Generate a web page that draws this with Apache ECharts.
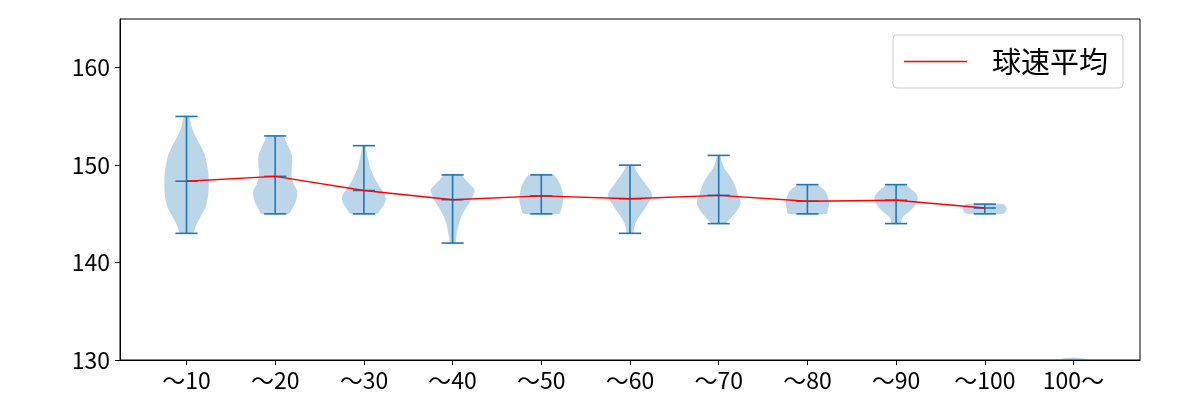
<!DOCTYPE html>
<html><head><meta charset="utf-8">
<script src="https://cdn.jsdelivr.net/npm/echarts@6/dist/echarts.min.js"></script>
<style>html,body{margin:0;padding:0;background:#fff}#c{width:1200px;height:400px}</style>
</head><body><div id="c"></div>
<script>
// ---- data ----
const categories = ['～10','～20','～30','～40','～50','～60','～70','～80','～90','～100','100～'];
const positions = [1,2,3,4,5,6,7,8,9,10,11];
const yTicks = [130,140,150,160];
const mins  = [143,145,145,142,145,143,144,145,144,145,null];
const maxs  = [155,153,152,149,149,150,151,148,148,146,null];
const means = [148.35,148.85,147.4,146.45,146.85,146.55,146.9,146.3,146.4,145.6,null];
// violin outlines: [speed, relative density]
const shape1 = [[143,0.28],[143.5,0.38],[144,0.47],[144.5,0.58],[145,0.7],[145.5,0.82],[146,0.9],[147,0.98],[148,1.0],[149,0.99],[150,0.93],[151,0.83],[152,0.64],[153,0.4],[154,0.22],[155,0.12]];
const shape2 = [[145,0.6],[145.5,0.76],[146,0.88],[146.5,0.96],[147,1.0],[147.5,0.98],[148,0.85],[148.5,0.77],[149,0.73],[149.5,0.74],[150,0.76],[150.5,0.77],[151,0.75],[151.5,0.68],[152,0.58],[152.5,0.47],[153,0.36]];
const shape3 = [[145,0.58],[145.5,0.78],[146,0.92],[146.5,0.99],[147,0.94],[147.5,0.8],[148,0.65],[148.5,0.52],[149,0.42],[149.5,0.32],[150,0.25],[150.5,0.2],[151,0.15],[151.5,0.11],[152,0.07]];
const shape4 = [[142,0.12],[142.5,0.16],[143,0.19],[143.5,0.23],[144,0.28],[144.5,0.36],[145,0.46],[145.5,0.58],[146,0.72],[146.5,0.85],[147,0.94],[147.5,0.99],[148,0.8],[148.5,0.58],[149,0.38]];
const shape5 = [[145,0.8],[145.5,0.9],[146,0.96],[146.5,0.99],[147,0.97],[147.5,0.93],[148,0.86],[148.5,0.74],[149,0.56]];
const shape6 = [[143,0.13],[143.5,0.18],[144,0.25],[144.5,0.35],[145,0.5],[145.5,0.66],[146,0.8],[146.5,0.93],[147,0.99],[147.5,0.89],[148,0.72],[148.5,0.56],[149,0.4],[149.5,0.26],[150,0.17]];
const shape7 = [[144,0.28],[144.5,0.52],[145,0.72],[145.5,0.88],[146,0.98],[146.5,0.96],[147,0.86],[147.5,0.8],[148,0.72],[148.5,0.62],[149,0.48],[149.5,0.3],[150,0.2],[150.5,0.12],[151,0.07]];
const shape8 = [[145,0.85],[145.5,0.93],[146,0.98],[146.5,0.95],[147,0.88],[147.5,0.74],[148,0.4]];
const shape9 = [[144,0.22],[144.5,0.25],[145,0.48],[145.5,0.72],[146,0.9],[146.5,0.98],[147,0.92],[147.5,0.7],[148,0.36]];
const shape10 = [[145,0.82],[145.25,0.95],[145.5,0.99],[145.75,0.95],[146,0.82]];
const shape11 = [[128.6,0.3],[129.2,0.8],[129.7,0.7],[130.15,0.5]];
const shapes = [shape1,shape2,shape3,shape4,shape5,shape6,shape7,shape8,shape9,shape10,shape11];

// ---- chart ----
const FONT = '"Noto Sans CJK JP", "Noto Sans", sans-serif';
const BLUE = '#1f77b4';
const HALF = 0.25;   // max half-width of a violin in x units
const CAP = 0.125;   // half-width of extrema / mean bars

const chart = echarts.init(document.getElementById('c'), null, {renderer:'canvas'});

function violinItem(params, api) {
  const i = params.dataIndex;
  const x = api.value(0);
  const s = shapes[i];
  const right = s.map(p => api.coord([x + p[1]*HALF, p[0]]));
  const left = s.slice().reverse().map(p => api.coord([x - p[1]*HALF, p[0]]));
  return {
    type: 'polygon',
    shape: { points: right.concat(left), smooth: 0.3 },
    style: { fill: 'rgba(31,119,180,0.3)', stroke: null }
  };
}

function barsItem(params, api) {
  const i = params.dataIndex;
  if (mins[i] == null) return null;
  const x = api.value(0);
  const st = { stroke: BLUE, lineWidth: 1.6, fill: null };
  const seg = (a, b) => {
    const p1 = api.coord(a), p2 = api.coord(b);
    return { type: 'line', shape: { x1: p1[0], y1: p1[1], x2: p2[0], y2: p2[1] }, style: st };
  };
  return {
    type: 'group',
    children: [
      seg([x, mins[i]], [x, maxs[i]]),
      seg([x - CAP, mins[i]], [x + CAP, mins[i]]),
      seg([x - CAP, maxs[i]], [x + CAP, maxs[i]]),
      seg([x - CAP, means[i]], [x + CAP, means[i]])
    ]
  };
}

const meanData = [];
means.forEach((m, i) => { if (m != null) meanData.push([positions[i], m]); });

chart.setOption({
  animation: false,
  backgroundColor: '#fff',
  grid: { left: 120, right: 60, top: 19, bottom: 40, show: true, borderColor: '#000', borderWidth: 1, backgroundColor: 'transparent' },
  legend: {
    data: [{ name: '球速平均', icon: 'rect' }],
    left: 893, top: 35,
    padding: [10, 15, 10, 11],
    itemWidth: 63, itemHeight: 1.6,
    itemStyle: { color: '#ff0000' },
    borderColor: '#cccccc', borderWidth: 1, borderRadius: 4,
    backgroundColor: 'rgba(255,255,255,0.8)',
    textStyle: { fontSize: 29, fontFamily: FONT, color: '#000', lineHeight: 33, padding: [0, 0, 0, 20] }
  },
  xAxis: {
    type: 'value', min: 0.25, max: 11.75,
    axisLine: { show: true, lineStyle: { color: '#000', width: 1 } },
    axisTick: { show: true, length: 5, customValues: positions, lineStyle: { color: '#000' } },
    axisLabel: { customValues: positions, formatter: v => categories[Math.round(v) - 1], fontSize: 23, fontFamily: FONT, color: '#000', margin: 9 },
    splitLine: { show: false }
  },
  yAxis: {
    type: 'value', min: 130, max: 165,
    axisLine: { show: true, lineStyle: { color: '#000', width: 1 } },
    axisTick: { show: true, length: 5, customValues: yTicks, lineStyle: { color: '#000' } },
    axisLabel: { customValues: yTicks, fontSize: 23, fontFamily: FONT, color: '#000', margin: 10 },
    splitLine: { show: false }
  },
  series: [
    { type: 'custom', name: 'violins', data: positions.map(p => [p]), renderItem: violinItem, clip: true, silent: true, z: 1 },
    { type: 'custom', name: 'bars', data: positions.map(p => [p]), renderItem: barsItem, clip: true, silent: true, z: 2 },
    { type: 'line', name: '球速平均', data: meanData, symbol: 'none', showSymbol: false, color: '#ff0000',
      lineStyle: { color: '#ff0000', width: 1.4 }, z: 3 }
  ]
});
</script>
</body></html>
